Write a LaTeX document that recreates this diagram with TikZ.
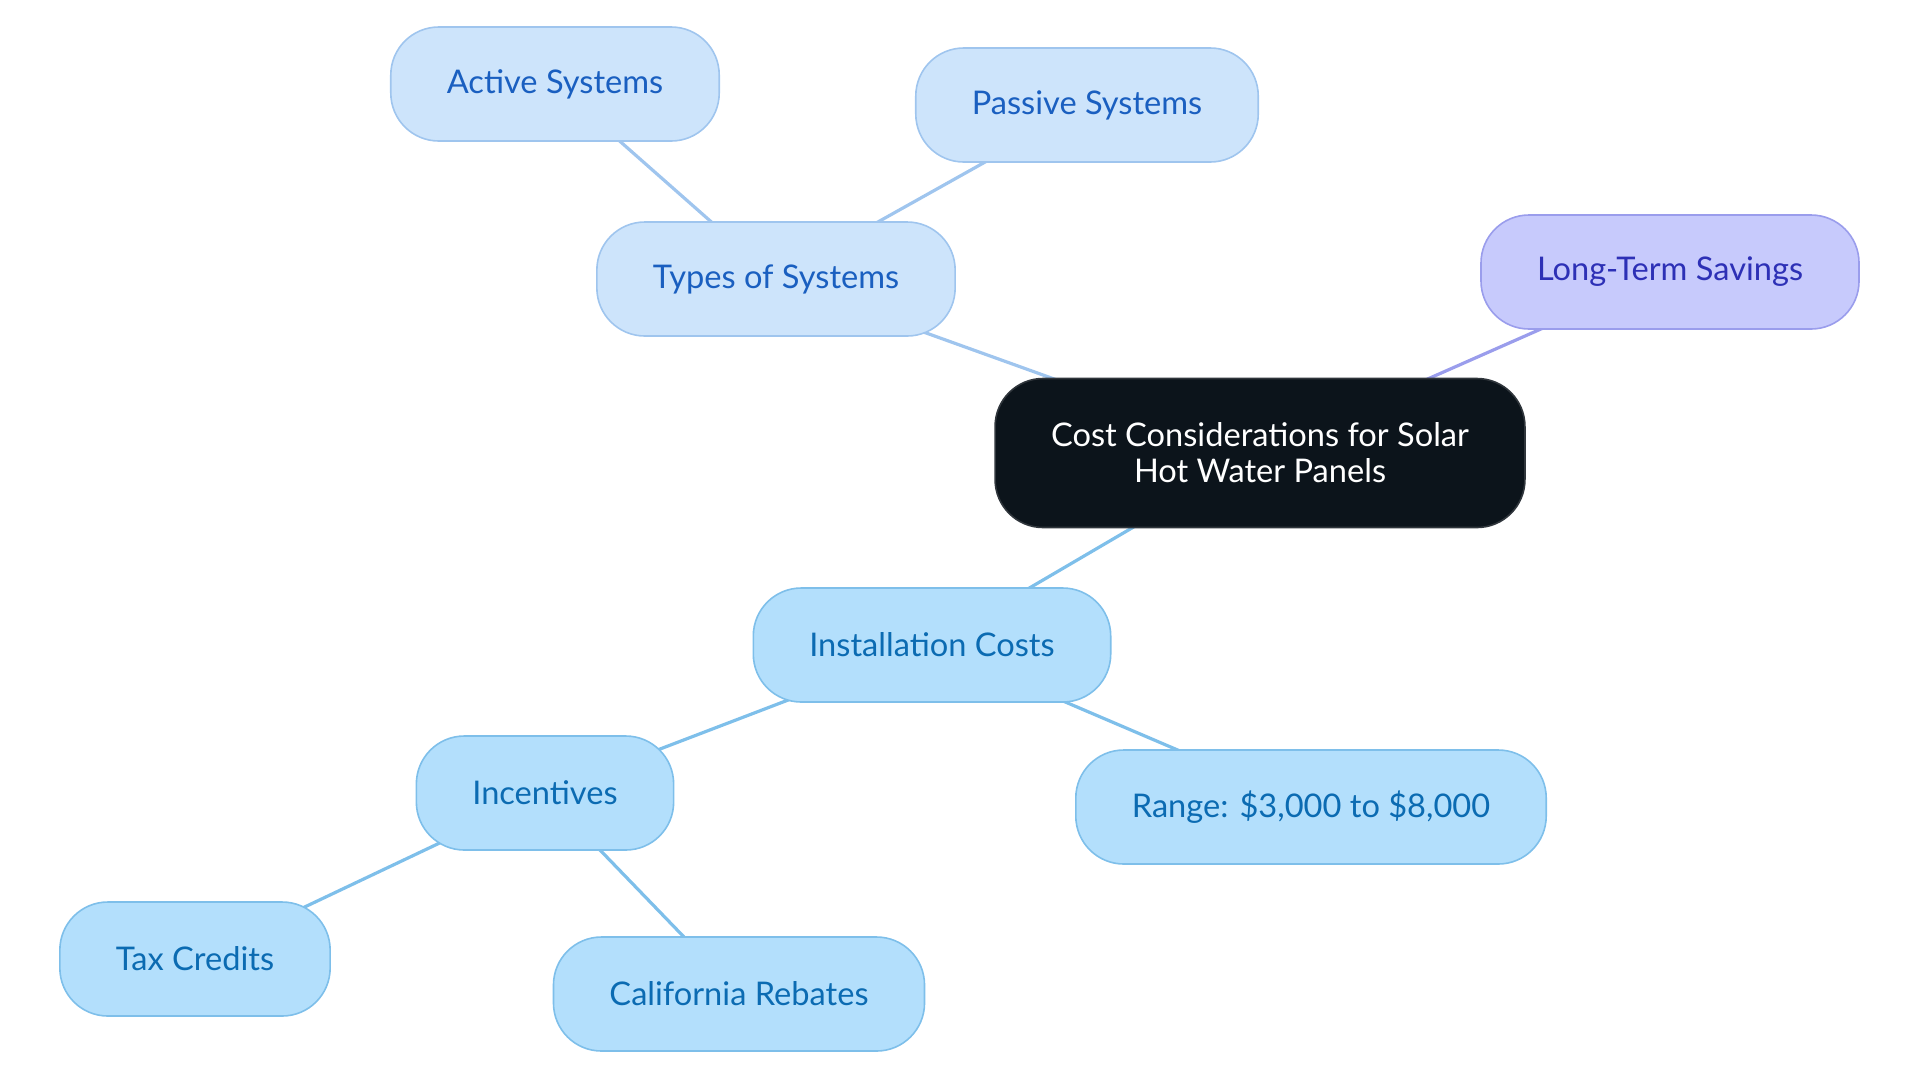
\documentclass[tikz,border=0pt]{standalone}
\usepackage{fontspec}
\setmainfont{Lato}
\usepackage{tikz}
\usetikzlibrary{backgrounds}

\definecolor{sysfill}{HTML}{CDE4FB}
\definecolor{sysline}{HTML}{9FC5EE}
\definecolor{systext}{HTML}{1A5FC0}
\definecolor{instfill}{HTML}{B3DFFC}
\definecolor{instline}{HTML}{7EBFEA}
\definecolor{insttext}{HTML}{0B6BB2}
\definecolor{savefill}{HTML}{C7CAFC}
\definecolor{saveline}{HTML}{9A9DEC}
\definecolor{savetext}{HTML}{2D30B6}
\definecolor{rootfill}{HTML}{0C141B}
\definecolor{rootline}{HTML}{30363C}

\tikzset{
  mapnode/.style={rounded corners=24pt, inner xsep=28pt, inner ysep=0pt,
    minimum height=57pt, line width=0.8pt, align=center,
    font=\fontsize{16.3}{18}\selectfont},
  sysnode/.style={mapnode, fill=sysfill, draw=sysline, text=systext},
  instnode/.style={mapnode, fill=instfill, draw=instline, text=insttext},
  savenode/.style={mapnode, fill=savefill, draw=saveline, text=savetext},
  rootnode/.style={mapnode, fill=rootfill, draw=rootline, text=white, minimum height=74.5pt},
  sysedge/.style={draw=sysline, line width=1.6pt},
  instedge/.style={draw=instline, line width=1.6pt},
  saveedge/.style={draw=saveline, line width=1.6pt}
}

\begin{document}
\begin{tikzpicture}[x=0.5pt,y=0.5pt,yscale=-1]
    \useasboundingbox (0,0) rectangle (1920,1083); % page size of the reference

    % Central node
    \node [rootnode] (root) at (1260,453) {Cost Considerations for Solar\\Hot Water Panels};

    % Types of systems branch
    \node [sysnode] (types) at (776,279) {Types of Systems};
    \node [sysnode] (active) at (555,84) {Active Systems};
    \node [sysnode] (passive) at (1087,105) {Passive Systems};

    % Savings branch
    \node [savenode] (savings) at (1670,272) {Long-Term Savings};

    % Installation branch
    \node [instnode] (install) at (932,645) {Installation Costs};
    \node [instnode] (range) at (1311,807) {Range: \$3,000 to \$8,000};
    \node [instnode] (incent) at (545,793) {Incentives};
    \node [instnode] (tax) at (195,959) {Tax Credits};
    \node [instnode] (rebates) at (739,994) {California Rebates};

    % Connectors
    \begin{scope}[on background layer]
    \draw [sysedge] (root.center) -- (types.center);
    \draw [sysedge] (types.center) -- (active.center);
    \draw [sysedge] (types.center) -- (passive.center);
    \draw [saveedge] (root.center) -- (savings.center);
    \draw [instedge] (root.center) -- (install.center);
    \draw [instedge] (install.center) -- (range.center);
    \draw [instedge] (install.center) -- (incent.center);
    \draw [instedge] (incent.center) -- (tax.center);
    \draw [instedge] (incent.center) -- (rebates.center);
    \end{scope}
\end{tikzpicture}
\end{document}
